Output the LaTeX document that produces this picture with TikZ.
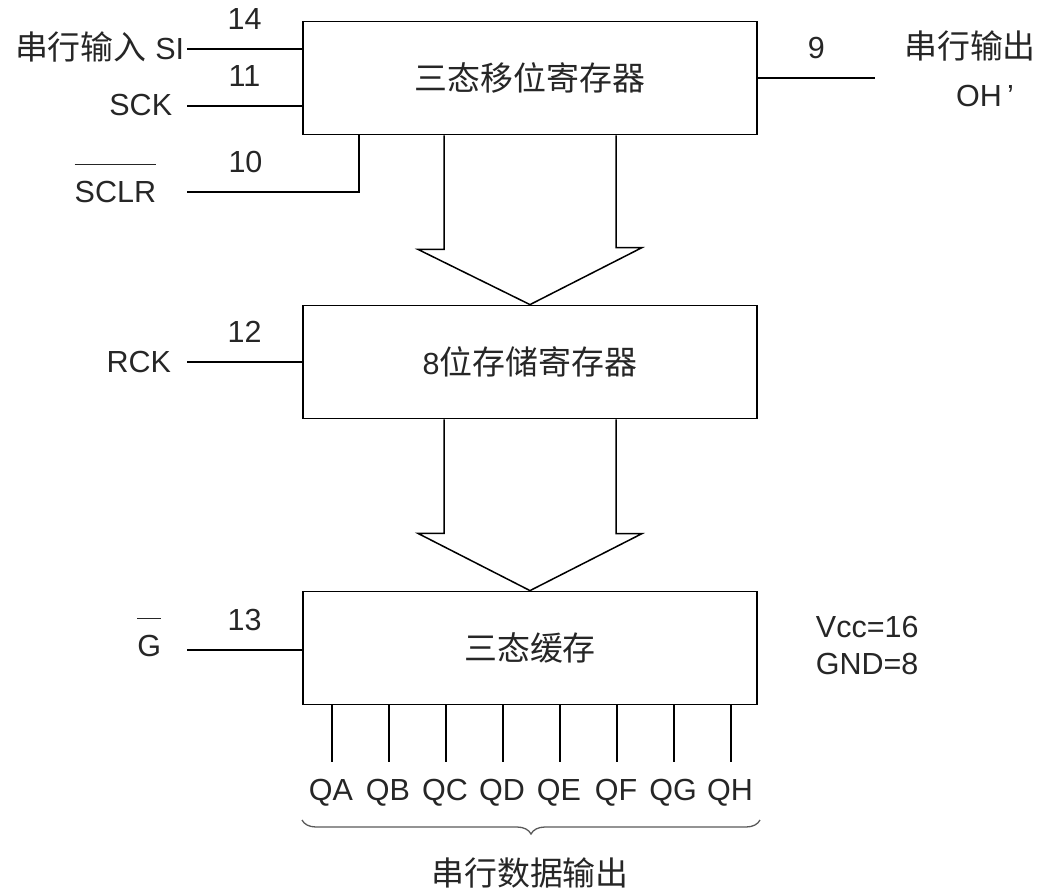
\documentclass[tikz,border=0pt]{standalone}
\usepackage{fontspec}
\setmainfont{Liberation Sans}
\newfontfamily\cjk[Scale=1.08]{Noto Sans CJK SC}
\usetikzlibrary{calc}
\usetikzlibrary{decorations.pathreplacing}

\newcommand{\barred}[1]{\setbox0\hbox{#1}\rlap{\rule[37pt]{\wd0}{1.5pt}}\box0}

\begin{document}
\begin{tikzpicture}[x=1pt, y=-1pt, line width=1.8pt,
    font=\fontsize{30.5}{36}\selectfont, text=black!85,
    regbox/.style={draw, minimum width=454pt, minimum height=113pt, inner sep=0pt},
    pinnum/.style={anchor=base, yshift=20pt, inner sep=0pt},
    pinname/.style={anchor=base east, inner sep=0pt},
    qlabel/.style={anchor=base, inner sep=0pt}]

  \useasboundingbox (0,0) rectangle (1042,892);

  % the three blocks
  \node[regbox] (shift) at (530,78) {{\cjk 三态移位寄存器}};
  \node[regbox] (store) at (530,362) {8{\cjk 位存储寄存器}};
  \node[regbox] (buf) at (530,648) {{\cjk 三态缓存}};

  % wide arrows between the blocks
  \foreach \a/\b in {shift/store, store/buf}
    \draw[line width=1.5pt] ($(\a.south)+(-86,0)$) -- ++(0,114) -- ++(-26,0) -- (\b.north)
      -- ($(\b.north)+(112,-57)$) -- ++(-26,0) -- ($(\a.south)+(86,0)$);

  % input pins
  \coordinate (si) at (187,49);
  \coordinate (sck) at (187,106);
  \coordinate (sclr) at (187,192);
  \coordinate (clr) at (359,192);
  \coordinate (rck) at (187,362);
  \coordinate (g) at (187,650);

  \draw (si) -- node[pinnum] (n14) {14} (si -| shift.west);
  \draw (sck) -- node[pinnum] (n11) {11} (sck -| shift.west);
  \draw (sclr) -- node[pinnum, pos=0.34] (n10) {10} (clr) -- (clr |- shift.south);
  \draw (rck) -- node[pinnum] (n12) {12} (rck -| store.west);
  \draw (g) -- node[pinnum] (n13) {13} (g -| buf.west);

  \node[pinname] (siname) at (185,59) {{\cjk 串行输入} SI};
  \node[pinname] (sckname) at (173,115) {SCK};
  \node[pinname] (sclrname) at (157,202) {\barred{SCLR}};
  \node[pinname] (rckname) at (172,372) {RCK};
  \node[pinname] (gname) at (162,656) {\barred{G}};

  % serial output
  \coordinate (oh) at (875,78);
  \draw (shift.east |- oh) -- node[pinnum] (n9) {9} (oh);
  \node[anchor=base, inner sep=0pt] (ohname) at (970,58) {{\cjk 串行输出}};
  \node[anchor=base, inner sep=0pt] (ohpin) at (985,106) {OH\,’};

  \node[anchor=base west, inner sep=0pt] (vcc) at (815,637) {Vcc=16};
  \node[anchor=base west, inner sep=0pt] (gnd) at (815,674) {GND=8};

  % parallel outputs
  \foreach \q [count=\i from 0] in {A,B,C,D,E,F,G,H} {
    \coordinate (p\q) at ({332+57*\i},762);
    \draw[line width=1.4pt] (buf.south -| p\q) -- (p\q);
    \node[qlabel] (q\q) at ({331+57*\i},800) {Q\q};
  }

  \coordinate (bl) at (302,820);
  \coordinate (br) at (760,820);
  \draw[decorate, decoration={brace, mirror, amplitude=14pt}, line width=1.3pt, black!65] (bl) -- (br);
  \node[anchor=base, inner sep=0pt] (busname) at (530,885) {{\cjk 串行数据输出}};
\end{tikzpicture}
\end{document}
